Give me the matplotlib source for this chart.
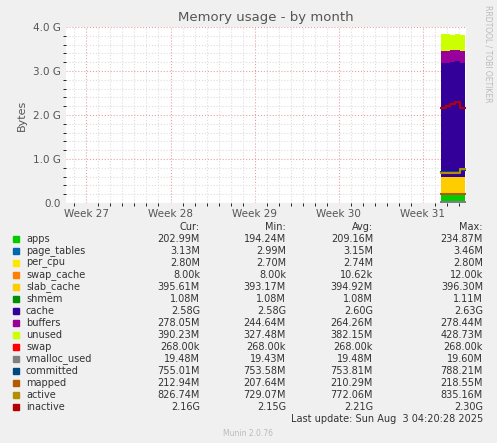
import matplotlib.pyplot as plt
import numpy as np

# ── Data (GiB, time in days from plot start) ─────────────────────────────
t = [31.2, 31.6, 32.0, 32.4, 32.8, 33.2]
apps = [0.19, 0.19, 0.19, 0.20, 0.19, 0.19]
page_tables = [0.003] * 6
per_cpu = [0.003] * 6
swap_cache = [0.0] * 6
slab_cache = [0.39, 0.39, 0.39, 0.39, 0.39, 0.39]
shmem = [0.001] * 6
cache = [2.60, 2.60, 2.61, 2.62, 2.60, 2.58]
buffers = [0.26, 0.26, 0.27, 0.27, 0.27, 0.27]
unused = [0.40, 0.40, 0.36, 0.35, 0.37, 0.38]
swap = [0.0003] * 6
vmalloc_used = [0.019] * 6
committed = [0.70, 0.70, 0.70, 0.71, 0.74, 0.74]
mapped = [0.20, 0.20, 0.21, 0.21, 0.21, 0.21]
active = [0.68, 0.68, 0.68, 0.68, 0.77, 0.77]
inactive = [2.15, 2.20, 2.25, 2.30, 2.15, 2.15]

week_pos = [1.7, 8.7, 15.7, 22.7, 29.7]
week_labels = ['Week 27', 'Week 28', 'Week 29', 'Week 30', 'Week 31']

names = ['apps', 'page_tables', 'per_cpu', 'swap_cache', 'slab_cache', 'shmem', 'cache',
         'buffers', 'unused', 'swap', 'vmalloc_used', 'committed', 'mapped', 'active', 'inactive']
colors = ['#00CC00', '#0066B3', '#FFE600', '#FF8000', '#FFCC00', '#008F00', '#330099',
          '#990099', '#CCFF00', '#FF0000', '#808080', '#00487D', '#B35A00', '#B38F00', '#B30000']
cur = ['202.99M', '3.13M', '2.80M', '8.00k', '395.61M', '1.08M', '2.58G', '278.05M',
       '390.23M', '268.00k', '19.48M', '755.01M', '212.94M', '826.74M', '2.16G']
mins = ['194.24M', '2.99M', '2.70M', '8.00k', '393.17M', '1.08M', '2.58G', '244.64M',
        '327.48M', '268.00k', '19.43M', '753.58M', '207.64M', '729.07M', '2.15G']
avgs = ['209.16M', '3.15M', '2.74M', '10.62k', '394.92M', '1.08M', '2.60G', '264.26M',
        '382.15M', '268.00k', '19.48M', '753.81M', '210.29M', '772.06M', '2.21G']
maxs = ['234.87M', '3.46M', '2.80M', '12.00k', '396.30M', '1.11M', '2.63G', '278.44M',
        '428.73M', '268.00k', '19.60M', '788.21M', '218.55M', '835.16M', '2.30G']

W, H = 497, 443
fig = plt.figure(figsize=(W / 100, H / 100), dpi=100, facecolor='#F0F0F0')
ax = fig.add_axes([66 / W, 1 - 203 / H, 400 / W, 176 / H])
ax.set_facecolor('white')

stack = [apps, page_tables, per_cpu, swap_cache, slab_cache, shmem, cache, buffers, unused, swap]
ax.stackplot(t, *stack, colors=colors[:10], step='post', linewidth=0)
for series, c in zip([vmalloc_used, committed, mapped, active, inactive], colors[10:]):
    ax.step(t, series, where='post', color=c, lw=1.5)

ax.set_xlim(0, 33.3)
ax.set_ylim(0, 4.0)
ax.set_yticks([0, 1, 2, 3, 4])
ax.set_yticklabels(['0.0', '1.0 G', '2.0 G', '3.0 G', '4.0 G'])
ax.set_xticks(week_pos)
ax.set_xticklabels(week_labels)
ax.set_yticks(np.arange(0, 4.01, 0.2), minor=True)
ax.set_xticks(np.arange(0.7, 33.3, 1), minor=True)
ax.grid(which='minor', color='#DDDDDD', ls=':', lw=0.8)
ax.grid(which='major', color='#E8A0A0', ls=':', lw=0.8)
ax.set_axisbelow(True)
ax.tick_params(labelsize=7.5, colors='#555555', length=0, pad=4)
for s in ax.spines.values():
    s.set_visible(False)
ax.set_ylabel('Bytes', fontsize=8, color='#555555')
ax.set_title('Memory usage - by month', fontsize=9.5, color='#555555', pad=4)

# legend table
def ty(y):
    return 1 - y / H

fs = 7
hx = [200, 286, 373, 483]
for x, h in zip(hx, ['Cur:', 'Min:', 'Avg:', 'Max:']):
    fig.text(x / W, ty(227), h, ha='right', va='center', fontsize=fs, color='#333333')
for i, n in enumerate(names):
    y = ty(239 + i * 12)
    fig.patches.append(plt.Rectangle((13 / W, y - 3 / H), 6 / W, 6 / H, color=colors[i],
                                     transform=fig.transFigure, figure=fig))
    fig.text(26 / W, y, n, ha='left', va='center', fontsize=fs, color='#333333')
    for x, v in zip(hx, [cur[i], mins[i], avgs[i], maxs[i]]):
        fig.text(x / W, y, v, ha='right', va='center', fontsize=fs, color='#333333')

fig.text(483 / W, ty(419), 'Last update: Sun Aug  3 04:20:28 2025', ha='right', va='center',
         fontsize=fs, color='#333333')
fig.text(248 / W, ty(433), 'Munin 2.0.76', ha='center', va='center', fontsize=5.5, color='#BBBBBB')
fig.text(488 / W, ty(5), 'RRDTOOL / TOBI OETIKER', rotation=270, ha='center', va='top',
         fontsize=5.5, color='#BBBBBB')

fig.savefig('out.png', dpi=100, facecolor=fig.get_facecolor())
